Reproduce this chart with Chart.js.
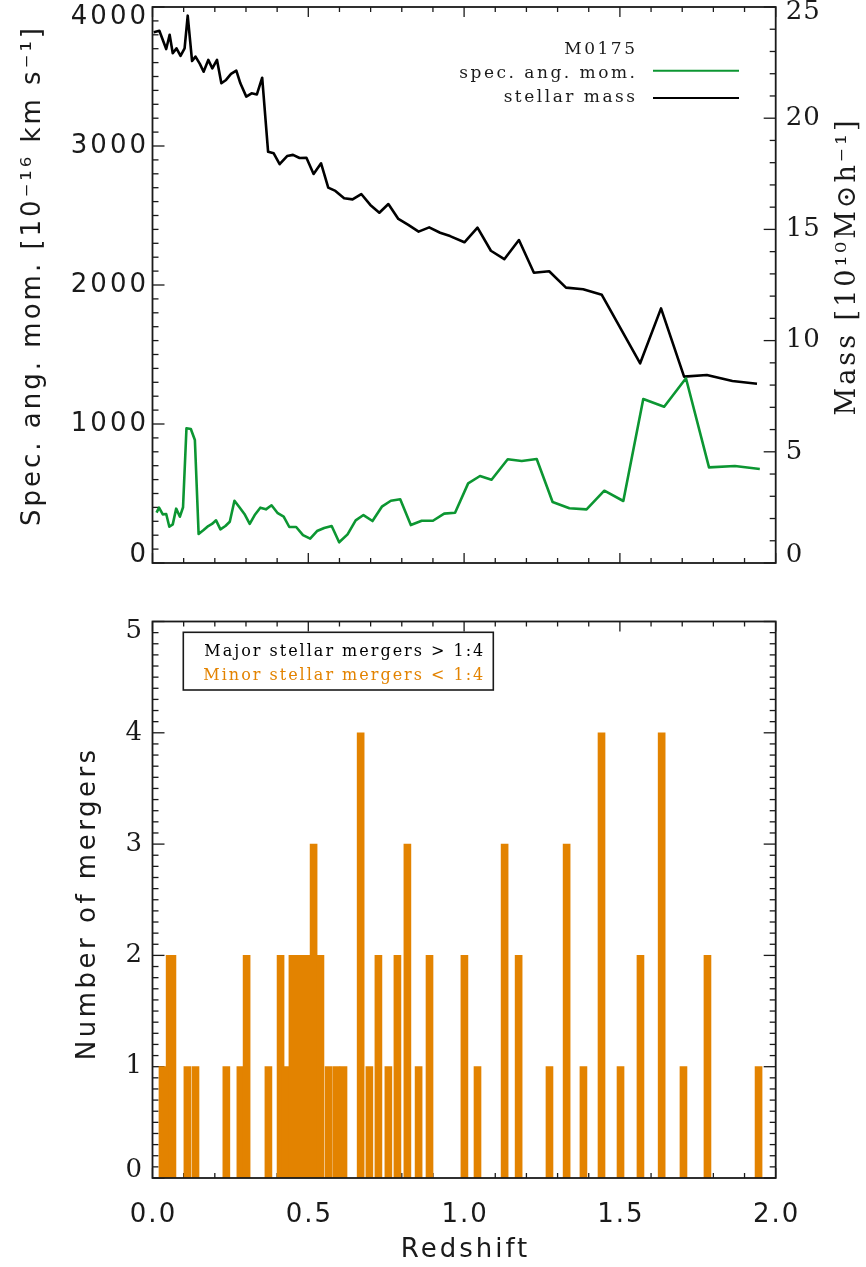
<!DOCTYPE html>
<html>
<head>
<meta charset="utf-8">
<script src="https://cdn.jsdelivr.net/npm/chart.js@4.4.1/dist/chart.umd.min.js"></script>
<style>
  html, body { margin: 0; padding: 0; background: #fff; }
  body { width: 866px; height: 1267px; position: relative; overflow: hidden; }
  canvas { position: absolute; left: 0; }
  #topChart { top: 0; }
  #bottomChart { top: 590px; }
</style>
</head>
<body>
<canvas id="topChart" width="866" height="590"></canvas>
<canvas id="bottomChart" width="866" height="677"></canvas>
<script>
// Halo M0175: angular momentum and stellar mass history, plus merger counts, vs redshift

const haloName = 'M0175';

// specific angular momentum [1e-16 km/s], left axis
const angMomRedshift = [0.013, 0.021, 0.033, 0.044, 0.054, 0.065, 0.076, 0.088, 0.098, 0.109,
  0.123, 0.136, 0.148, 0.164, 0.179, 0.191, 0.204, 0.218, 0.234, 0.248,
  0.263, 0.279, 0.295, 0.312, 0.328, 0.346, 0.364, 0.382, 0.402, 0.421,
  0.439, 0.461, 0.483, 0.506, 0.528, 0.551, 0.575, 0.599, 0.626, 0.652,
  0.677, 0.706, 0.736, 0.765, 0.795, 0.829, 0.864, 0.900, 0.936, 0.971,
  1.013, 1.051, 1.088, 1.140, 1.185, 1.233, 1.284, 1.338, 1.393, 1.450,
  1.511, 1.575, 1.642, 1.712, 1.786, 1.869, 1.949];
const angMomValues = [362, 398, 350, 353, 261, 278, 391, 333, 401, 969,
  964, 885, 209, 237, 266, 281, 307, 242, 266, 297,
  448, 401, 353, 281, 345, 398, 386, 415, 358, 333,
  259, 259, 201, 175, 230, 252, 266, 149, 206, 307,
  345, 302, 405, 448, 458, 273, 304, 304, 355, 362,
  573, 626, 599, 746, 734, 748, 439, 394, 386, 520,
  446, 1180, 1124, 1329, 688, 698, 676];

// stellar mass [1e10 Msun/h], right axis
const massRedshift = [0.004, 0.022, 0.044, 0.055, 0.065, 0.077, 0.090, 0.103, 0.113, 0.127,
  0.138, 0.152, 0.164, 0.179, 0.192, 0.207, 0.221, 0.236, 0.252, 0.269,
  0.282, 0.301, 0.318, 0.335, 0.352, 0.371, 0.389, 0.408, 0.432, 0.451,
  0.472, 0.494, 0.517, 0.541, 0.564, 0.587, 0.615, 0.642, 0.670, 0.699,
  0.728, 0.757, 0.789, 0.821, 0.854, 0.888, 0.923, 0.955, 1.001, 1.043,
  1.086, 1.129, 1.176, 1.224, 1.273, 1.327, 1.382, 1.442, 1.565, 1.632,
  1.706, 1.779, 1.861, 1.940];
const massValues = [23.86, 23.93, 23.11, 23.75, 22.92, 23.14, 22.80, 23.14, 24.61, 22.57,
  22.77, 22.44, 22.09, 22.62, 22.24, 22.62, 21.57, 21.72, 21.99, 22.14,
  21.57, 20.97, 21.12, 21.07, 21.82, 18.49, 18.42, 17.93, 18.30, 18.35,
  18.21, 18.22, 17.49, 17.97, 16.88, 16.73, 16.40, 16.35, 16.59, 16.10,
  15.75, 16.14, 15.47, 15.20, 14.90, 15.09, 14.85, 14.70, 14.42, 15.08,
  14.04, 13.66, 14.52, 13.05, 13.12, 12.38, 12.31, 12.06, 8.98, 11.45,
  8.38, 8.45, 8.18, 8.06];

// minor mergers per snapshot (no major ones in this halo)
const mergerRedshift = [0.032, 0.055, 0.064, 0.112, 0.138, 0.237, 0.282, 0.302, 0.372, 0.411,
  0.427, 0.449, 0.472, 0.494, 0.517, 0.539, 0.565, 0.590, 0.613, 0.668,
  0.696, 0.725, 0.757, 0.786, 0.818, 0.854, 0.889, 1.001, 1.043, 1.130,
  1.175, 1.274, 1.329, 1.383, 1.441, 1.502, 1.566, 1.634, 1.704, 1.781,
  1.945];
const mergerCounts = [1, 2, 2, 1, 1, 1, 1, 2, 1, 2,
  1, 2, 2, 2, 3, 2, 1, 1, 1, 4,
  1, 2, 1, 2, 3, 1, 2, 2, 1, 3,
  2, 1, 3, 1, 4, 1, 2, 4, 1, 2,
  1];
const mergerKeyLabels = ['Major stellar mergers > 1:4', 'Minor stellar mergers < 1:4'];

const zTickLabels = ['0.0', '0.5', '1.0', '1.5', '2.0'];
const angMomTickLabels = ['0', '1000', '2000', '3000', '4000'];
const massTickLabels = ['0', '5', '10', '15', '20', '25'];
const countTickLabels = ['0', '1', '2', '3', '4', '5'];

const INK = '#1a1a1a';
const GREEN = '#0c9632';
const BLACK = '#000000';
const ORANGE = '#e38300';
const SANS = '"DejaVu Sans", sans-serif';
const SERIF = '"DejaVu Serif", serif';

function drawText(ctx, text, x, y, font, o = {}) {
  const sp = o.spacing || 0;
  const align = o.align || 'center';
  ctx.save();
  ctx.font = font;
  ctx.fillStyle = o.color || INK;
  ctx.textAlign = align;
  ctx.textBaseline = o.baseline || 'middle';
  ctx.letterSpacing = sp + 'px';
  ctx.translate(x, y);
  if (o.rotate) ctx.rotate(o.rotate);
  // letter spacing trails the last glyph too, pull it back
  const shift = align === 'center' ? sp / 2 : align === 'right' ? sp : 0;
  ctx.fillText(text, shift, 0);
  ctx.restore();
}

// inward tick marks, box frame, tick labels and axis titles
function axisFrame(cfg) {
  return {
    id: 'axisFrame',
    beforeDatasetsDraw(chart) {
      const { ctx, chartArea: a } = chart;
      ctx.save();
      ctx.strokeStyle = INK;
      ctx.lineWidth = 1.3;
      for (const t of cfg.marks) {
        const scale = chart.scales[t.scale];
        const count = Math.round((scale.max - scale.min) / t.minor);
        for (let i = 0; i <= count; i++) {
          const v = scale.min + i * t.minor;
          const r = v / t.major;
          const len = Math.abs(r - Math.round(r)) < 1e-6 ? t.majorLen : t.minorLen;
          const p = scale.getPixelForValue(v);
          for (const side of t.sides) {
            ctx.beginPath();
            if (side === 'bottom') { ctx.moveTo(p, a.bottom); ctx.lineTo(p, a.bottom - len); }
            if (side === 'top') { ctx.moveTo(p, a.top); ctx.lineTo(p, a.top + len); }
            if (side === 'left') { ctx.moveTo(a.left, p); ctx.lineTo(a.left + len, p); }
            if (side === 'right') { ctx.moveTo(a.right, p); ctx.lineTo(a.right - len, p); }
            ctx.stroke();
          }
        }
      }
      ctx.restore();
    },
    afterDatasetsDraw(chart) {
      const { ctx, chartArea: a } = chart;
      ctx.save();
      ctx.strokeStyle = INK;
      ctx.lineWidth = 1.8;
      ctx.strokeRect(a.left, a.top, a.right - a.left, a.bottom - a.top);
      ctx.restore();

      for (const l of cfg.labels) {
        const scale = chart.scales[l.scale];
        for (const tick of scale.ticks) {
          const p = scale.getPixelForValue(tick.value);
          if (l.side === 'bottom') {
            drawText(ctx, tick.label, p, a.bottom + l.offset, l.font, { spacing: l.spacing });
            continue;
          }
          let y = p;
          if (tick.value === scale.max) y += l.endShift[0];
          if (tick.value === scale.min) y -= l.endShift[1];
          const left = l.side === 'left';
          drawText(ctx, tick.label, left ? a.left - l.offset : a.right + l.offset, y, l.font,
            { align: left ? 'right' : 'left', spacing: l.spacing });
        }
      }
      for (const t of cfg.titles) {
        drawText(ctx, t.text, t.x, t.y, t.font, { rotate: t.rotate, spacing: t.spacing });
      }
    }
  };
}

// "M0175" heading with line samples for the two series
function seriesKey(cfg) {
  return {
    id: 'seriesKey',
    afterDraw(chart) {
      const { ctx } = chart;
      const style = { align: 'right', baseline: 'alphabetic', spacing: cfg.spacing };
      drawText(ctx, cfg.title, cfg.textRight, cfg.baselines[0], cfg.font, style);
      chart.data.datasets.forEach((ds, i) => {
        drawText(ctx, ds.label, cfg.textRight, cfg.baselines[i + 1], cfg.font, style);
        ctx.save();
        ctx.strokeStyle = ds.borderColor;
        ctx.lineWidth = 2;
        ctx.beginPath();
        ctx.moveTo(cfg.lineFrom, cfg.lineY[i]);
        ctx.lineTo(cfg.lineTo, cfg.lineY[i]);
        ctx.stroke();
        ctx.restore();
      });
    }
  };
}

// boxed key for merger ratios
function mergerKey(cfg) {
  return {
    id: 'mergerKey',
    afterDraw(chart) {
      const { ctx, chartArea: a } = chart;
      const x0 = a.left + cfg.box[0], y0 = a.top + cfg.box[1];
      ctx.save();
      ctx.fillStyle = '#fff';
      ctx.fillRect(x0, y0, cfg.box[2], cfg.box[3]);
      ctx.strokeStyle = INK;
      ctx.lineWidth = 1.6;
      ctx.strokeRect(x0, y0, cfg.box[2], cfg.box[3]);
      ctx.restore();
      mergerKeyLabels.forEach((text, i) => {
        drawText(ctx, text, x0 + cfg.textRight, y0 + cfg.baselines[i], cfg.font,
          { align: 'right', baseline: 'alphabetic', spacing: cfg.spacing, color: cfg.colors[i] });
      });
    }
  };
}

const topChart = new Chart(document.getElementById('topChart'), {
  type: 'line',
  data: {
    datasets: [
      {
        label: 'spec. ang. mom.',
        data: angMomRedshift.map((z, i) => ({ x: z, y: angMomValues[i] })),
        borderColor: GREEN,
        borderWidth: 2.6,
        borderJoinStyle: 'round',
        pointRadius: 0,
        yAxisID: 'y'
      },
      {
        label: 'stellar mass',
        data: massRedshift.map((z, i) => ({ x: z, y: massValues[i] })),
        borderColor: BLACK,
        borderWidth: 2.6,
        borderJoinStyle: 'round',
        pointRadius: 0,
        yAxisID: 'y1'
      }
    ]
  },
  options: {
    responsive: false,
    animation: false,
    devicePixelRatio: 1,
    layout: { padding: { left: 152.5, right: 90.3, top: 7, bottom: 27 } },
    plugins: { legend: { display: false }, tooltip: { enabled: false } },
    scales: {
      x: { type: 'linear', display: false, min: 0, max: 2, ticks: { stepSize: 0.5 } },
      y: { type: 'linear', display: false, min: 0, max: 4000,
           ticks: { stepSize: 1000, callback: (v, i) => angMomTickLabels[i] } },
      y1: { type: 'linear', display: false, position: 'right', min: 0, max: 25,
            ticks: { stepSize: 5, callback: (v, i) => massTickLabels[i] } }
    }
  },
  plugins: [
    axisFrame({
      marks: [
        { scale: 'x', sides: ['bottom', 'top'], major: 0.5, minor: 0.1, majorLen: 10, minorLen: 5 },
        { scale: 'y', sides: ['left'], major: 1000, minor: 100, majorLen: 12, minorLen: 6 },
        { scale: 'y1', sides: ['right'], major: 5, minor: 1, majorLen: 12, minorLen: 6 }
      ],
      labels: [
        { scale: 'y', side: 'left', offset: 6.5, font: '26px ' + SANS, spacing: 3, endShift: [10, 8] },
        { scale: 'y1', side: 'right', offset: 10, font: '26px ' + SERIF, spacing: 1, endShift: [5, 8] }
      ],
      titles: [
        { text: 'Spec. ang. mom. [10⁻¹⁶ km s⁻¹]', x: 33, y: 277, font: '26px ' + SANS, spacing: 3, rotate: -Math.PI / 2 },
        { text: 'Mass [10¹⁰M⊙h⁻¹]', x: 848, y: 268, font: '27px ' + SERIF, spacing: 3, rotate: -Math.PI / 2 }
      ]
    }),
    seriesKey({
      title: haloName,
      font: '17px ' + SERIF,
      spacing: 2.5,
      textRight: 635,
      baselines: [54, 77.5, 101.5],
      lineFrom: 653,
      lineTo: 739,
      lineY: [70.7, 98]
    })
  ]
});

const bottomChart = new Chart(document.getElementById('bottomChart'), {
  type: 'bar',
  data: {
    datasets: [{
      label: mergerKeyLabels[1],
      data: mergerRedshift.map((z, i) => ({ x: z, y: mergerCounts[i] })),
      backgroundColor: ORANGE,
      borderWidth: 0,
      barThickness: 7
    }]
  },
  options: {
    responsive: false,
    animation: false,
    devicePixelRatio: 1,
    layout: { padding: { left: 152.5, right: 90.3, top: 31.5, bottom: 89 } },
    plugins: { legend: { display: false }, tooltip: { enabled: false } },
    scales: {
      x: { type: 'linear', display: false, offset: false, min: 0, max: 2,
           ticks: { stepSize: 0.5, callback: (v, i) => zTickLabels[i] } },
      y: { type: 'linear', display: false, min: 0, max: 5,
           ticks: { stepSize: 1, callback: (v, i) => countTickLabels[i] } }
    }
  },
  plugins: [
    axisFrame({
      marks: [
        { scale: 'x', sides: ['bottom', 'top'], major: 0.5, minor: 0.1, majorLen: 10, minorLen: 5 },
        { scale: 'y', sides: ['left', 'right'], major: 1, minor: 0.1, majorLen: 12, minorLen: 6 }
      ],
      labels: [
        { scale: 'y', side: 'left', offset: 10.5, font: '26px ' + SERIF, spacing: 0, endShift: [10, 8] },
        { scale: 'x', side: 'bottom', offset: 37, font: '26px ' + SANS, spacing: 2 }
      ],
      titles: [
        { text: 'Number of mergers', x: 88, y: 315, font: '26px ' + SANS, spacing: 3.5, rotate: -Math.PI / 2 },
        { text: 'Redshift', x: 464, y: 660, font: '26px ' + SANS, spacing: 3 }
      ]
    }),
    mergerKey({
      box: [30.8, 10.8, 310, 57.7],
      textRight: 300,
      baselines: [24, 47.3],
      font: '16px ' + SERIF,
      spacing: 2,
      colors: [BLACK, ORANGE]
    })
  ]
});
</script>
</body>
</html>
